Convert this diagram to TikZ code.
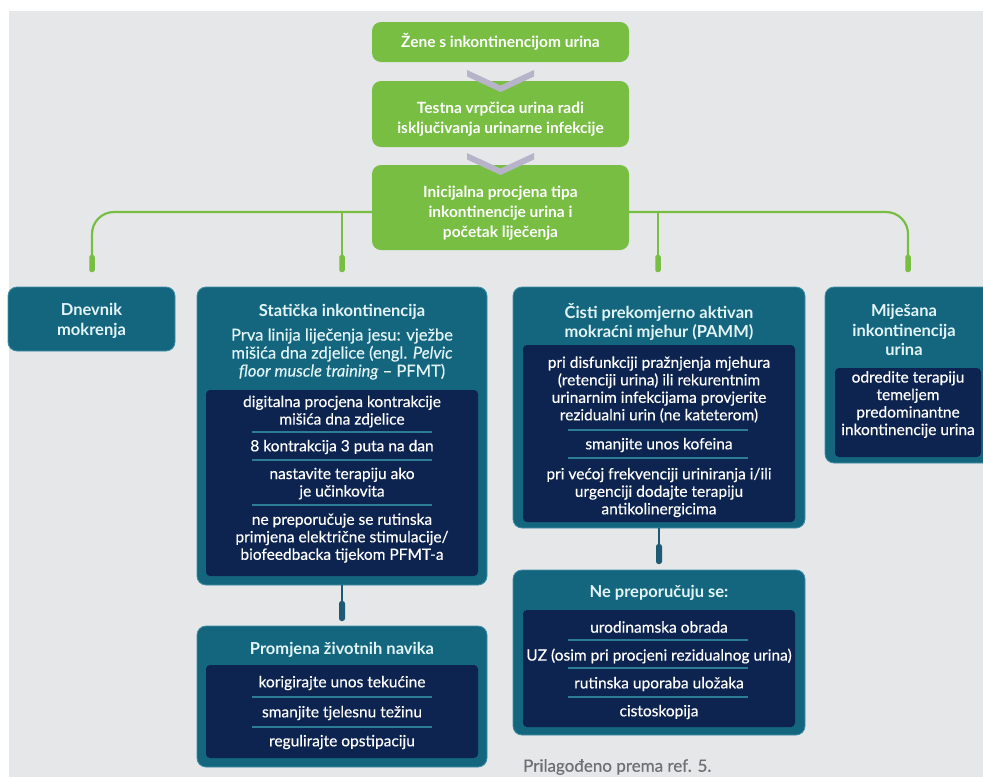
\documentclass[tikz,border=0pt]{standalone}
\usepackage{fontspec}
\setmainfont{Lato}
\newfontfamily\medfont{Lato}[FakeBold=0.35]
\usetikzlibrary{fit}
\definecolor{cbg}{HTML}{E6E7E9}
\definecolor{cgreen}{HTML}{78BE43}
\definecolor{cteal}{HTML}{14667F}
\definecolor{ctealedge}{HTML}{3F8FA6}
\definecolor{cnavy}{HTML}{0E2450}
\definecolor{csep}{HTML}{2C7C95}
\definecolor{cchev}{HTML}{B7B4C9}
\definecolor{ctline}{HTML}{1E5A73}
\definecolor{ctitle}{HTML}{E3F4F7}
\definecolor{ccap}{HTML}{6E6F72}
\tikzset{
  gbox/.style={fill=cgreen, rounded corners=9pt, inner sep=0pt},
  tbox/.style={fill=cteal, draw=ctealedge, line width=0.8pt, rounded corners=9pt, inner sep=0pt},
  nbox/.style={fill=cnavy, rounded corners=4pt, inner sep=0pt},
  gtext/.style={text=white, font=\bfseries\fontsize{15.5}{20}\selectfont, align=center, inner sep=0pt},
  ttext/.style={text=ctitle, font=\bfseries\fontsize{16.5}{19.5}\selectfont, align=center, inner sep=0pt},
  stext/.style={text=ctitle, font=\medfont\fontsize{16.5}{18}\selectfont, align=center, inner sep=0pt},
  itext/.style={text=white, font=\medfont\fontsize{15.5}{17.5}\selectfont, align=center, inner sep=0pt},
  sepline/.style={draw=csep, line width=2pt},
  gline/.style={draw=cgreen, line width=2.2pt},
  gstub/.style={fill=cgreen, rounded corners=2pt, minimum width=5.5pt, minimum height=17pt, inner sep=0pt},
  tline/.style={draw=ctline, line width=2.2pt},
  tstub/.style={fill=ctline, rounded corners=2.5pt, minimum width=6pt, minimum height=20pt, inner sep=0pt},
  chev/.style={fill=cchev},
  captext/.style={text=ccap, font=\medfont\fontsize{17}{18}\selectfont, inner sep=0pt, anchor=west},
}
\begin{document}
\begin{tikzpicture}[x=1pt,y=-1pt]
\useasboundingbox (0,0) rectangle (983,777);
\fill[cbg] (9,11) rectangle (983,777);

% green boxes
\node[gbox, fit={(372,22) (629,62)}] (g1) {};
\node[gbox, fit={(372,81) (629,147)}] (g2) {};
\node[gbox, fit={(372,165) (629,250)}] (g3) {};
\node[gtext] (g1t) at (500.5,42) {Žene s inkontinencijom urina};
\node[gtext] (g2t) at (500.5,119) {Testna vrpčica urina radi\\isključivanja urinarne infekcije};
\node[gtext] (g3t) at (500.5,213) {Inicijalna procjena tipa\\inkontinencije urina i\\početak liječenja};

% chevrons
\fill[chev] (467,70) -- (500.5,85.5) -- (534,70) -- (534,76.5) -- (500.5,92) -- (467,76.5) -- cycle;
\fill[chev] (467,153) -- (500.5,168.5) -- (534,153) -- (534,159.5) -- (500.5,175) -- (467,159.5) -- cycle;

% green stubs and branches
\coordinate (hy) at (0,212);
\node[gstub] (s1) at (92,263.5) {};
\node[gstub] (s2) at (342,263.5) {};
\node[gstub] (s3) at (658,263.5) {};
\node[gstub] (s4) at (908,263.5) {};
\draw[gline, rounded corners=22pt] (g3.west |- hy) -| (s1.north);
\draw[gline, rounded corners=22pt] (g3.east |- hy) -| (s4.north);
\draw[gline] (s2.north |- hy) -- (s2.north);
\draw[gline] (s3.north |- hy) -- (s3.north);

% Dnevnik
\node[tbox, fit={(8,287) (175,351)}] (dn) {};
\node[ttext] (dnt) at (91.5,321) {Dnevnik\\mokrenja};

% Staticka
\node[tbox, fit={(197,287) (487,585)}] (st) {};
\node[ttext] (stt) at (342,312) {Statička inkontinencija};
\node[stext] (sts) at (342,354) {Prva linija liječenja jesu: vježbe\\mišića dna zdjelice (engl. \textit{Pelvic}\\\textit{floor muscle training} – PFMT)};
\node[nbox, fit={(206,390) (478,576)}] (stn) {};
\node[itext] (st1) at (342,411.5) {digitalna procjena kontrakcije\\mišića dna zdjelice};
\node[itext] (st2) at (342,447) {8 kontrakcija 3 puta na dan};
\node[itext] (st3) at (342,483.5) {nastavite terapiju ako\\je učinkovita};
\node[itext] (st4) at (342,538) {ne preporučuje se rutinska\\primjena električne stimulacije/\\biofeedbacka tijekom PFMT-a};
\draw[sepline] (252,432) -- (432,432);
\draw[sepline] (252,460) -- (432,460);
\draw[sepline] (252,505) -- (432,505);

% connector to Promjena
\node[tstub] (ts1) at (342,611) {};
\draw[tline] (st.south) -- (ts1.north);

% Promjena
\node[tbox, fit={(197,626) (487,767)}] (pr) {};
\node[ttext] (prt) at (342,650) {Promjena životnih navika};
\node[nbox, fit={(206,665) (478,758)}] (prn) {};
\node[itext] (pr1) at (342,683) {korigirajte unos tekućine};
\node[itext] (pr2) at (342,713) {smanjite tjelesnu težinu};
\node[itext] (pr3) at (342,742) {regulirajte opstipaciju};
\draw[sepline] (252,697) -- (432,697);
\draw[sepline] (252,727) -- (432,727);

% Cisti
\node[tbox, fit={(513,287) (805,528)}] (ci) {};
\node[ttext] (cit) at (659,322) {Čisti prekomjerno aktivan\\mokraćni mjehur (PAMM)};
\node[nbox, fit={(523,345) (795,522)}] (cin) {};
\node[itext] (ci1) at (659,389.5) {pri disfunkciji pražnjenja mjehura\\(retenciji urina) ili rekurentnim\\urinarnim infekcijama provjerite\\rezidualni urin (ne kateterom)};
\node[itext] (ci2) at (659,445) {smanjite unos kofeina};
\node[itext] (ci3) at (659,492.5) {pri većoj frekvenciji uriniranja i/ili\\urgenciji dodajte terapiju\\antikolinergicima};
\draw[sepline] (568,430) -- (748,430);
\draw[sepline] (568,458) -- (748,458);

% connector to Ne preporucuju
\node[tstub] (ts2) at (659,554) {};
\draw[tline] (ci.south) -- (ts2.north);

% Ne preporucuju se
\node[tbox, fit={(513,570) (805,735)}] (np) {};
\node[ttext] (npt) at (659,593) {Ne preporučuju se:};
\node[nbox, fit={(523,610) (795,727)}] (npn) {};
\node[itext] (np1) at (659,627) {urodinamska obrada};
\node[itext] (np2) at (659,656) {UZ (osim pri procjeni rezidualnog urina)};
\node[itext] (np3) at (659,684) {rutinska uporaba uložaka};
\node[itext] (np4) at (659,712) {cistoskopija};
\draw[sepline] (568,640) -- (748,640);
\draw[sepline] (568,668) -- (748,668);
\draw[sepline] (568,697) -- (748,697);

% Mijesana
\node[tbox, fit={(825,287) (995,463)}] (mi) {};
\node[ttext] (mit) at (904,330) {Miješana\\inkontinencija\\urina};
\node[nbox, fit={(835,368) (981,457)}] (min) {};
\node[itext] (mi1) at (908,404.5) {odredite terapiju\\temeljem\\predominantne\\inkontinencije urina};

% caption
\node[captext] (cap) at (523,767) {Prilagođeno prema ref. 5.};
\end{tikzpicture}
\end{document}
